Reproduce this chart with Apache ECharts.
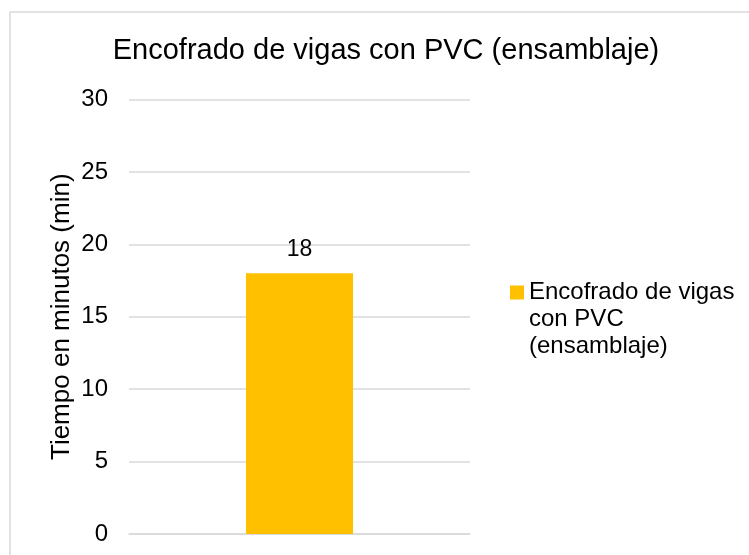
<!DOCTYPE html>
<html>
<head>
<meta charset="utf-8">
<script src="https://cdn.jsdelivr.net/npm/echarts@6/dist/echarts.min.js"></script>
<style>
  html, body { margin: 0; padding: 0; background: #fff; }
  #main { width: 749px; height: 555px; }
</style>
</head>
<body>
<div id="main"></div>
<script>
// datos del grafico
var titulo = 'Encofrado de vigas con PVC (ensamblaje)';
var categorias = [''];
var serieNombre = 'Encofrado de vigas con PVC (ensamblaje)';
var serieValores = [18];
var ejeY = { min: 0, max: 30, intervalo: 5, nombre: 'Tiempo en minutos (min)' };

var fuente = 'Arial, "Liberation Sans", sans-serif';

var chart = echarts.init(document.getElementById('main'));
var option = {
    backgroundColor: '#fff',
    animation: false,
    graphic: [
        {
            type: 'rect',
            shape: { x: 10, y: 12, width: 780, height: 580 },
            style: { fill: 'none', stroke: '#d9d9d9', lineWidth: 1.5 },
            silent: true
        }
    ],
    title: {
        text: titulo,
        left: 386,
        top: 36,
        padding: 0,
        textAlign: 'center',
        textStyle: { fontFamily: fuente, fontSize: 29, fontWeight: 'normal', color: '#000' }
    },
    legend: {
        orient: 'vertical',
        left: 510,
        top: 225,
        padding: 0,
        itemWidth: 14,
        itemHeight: 14,
        itemGap: 4,
        icon: 'rect',
        data: [serieNombre],
        // dos lineas vacias arriba para que el icono quede junto a la primera linea
        formatter: function () {
            return '\n\nEncofrado de vigas\ncon PVC\n(ensamblaje)';
        },
        textStyle: {
            fontFamily: fuente, fontSize: 24, color: '#000',
            lineHeight: 27
        }
    },
    grid: {
        left: 129,
        right: 279,
        top: 99.5,
        bottom: 21,
        containLabel: false
    },
    xAxis: {
        type: 'category',
        data: categorias,
        axisLine: { lineStyle: { color: '#d9d9d9', width: 1.5 } },
        axisTick: { show: false },
        axisLabel: { show: false }
    },
    yAxis: {
        type: 'value',
        min: ejeY.min,
        max: ejeY.max,
        interval: ejeY.intervalo,
        name: ejeY.nombre,
        nameLocation: 'middle',
        nameRotate: 90,
        nameGap: 54,
        nameTextStyle: { fontFamily: fuente, fontSize: 26, color: '#000' },
        axisLine: { show: false },
        axisTick: { show: false },
        axisLabel: { margin: 21, fontFamily: fuente, fontSize: 24, color: '#000' },
        splitLine: { lineStyle: { color: '#d9d9d9', width: 1.5 } }
    },
    series: [
        {
            name: serieNombre,
            type: 'bar',
            data: serieValores,
            barWidth: '31.4%',
            itemStyle: { color: '#ffc000' },
            label: {
                show: true,
                position: 'top',
                distance: 12,
                fontFamily: fuente,
                fontSize: 23,
                color: '#000'
            }
        }
    ]
};
chart.setOption(option);
</script>
</body>
</html>
